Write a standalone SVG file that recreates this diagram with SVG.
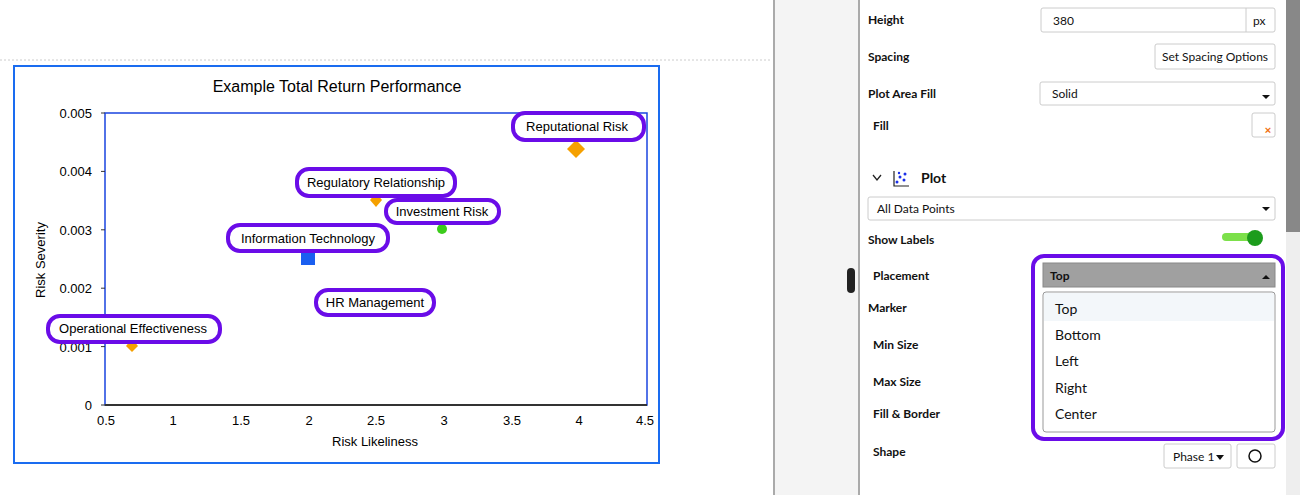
<svg xmlns="http://www.w3.org/2000/svg" width="1300" height="495" viewBox="0 0 1300 495">
<style>
.t{font-family:"Liberation Sans",Arial,sans-serif;fill:#000}
.ax{font-size:13px}
.lb{font-size:13px}
.hl{fill:#fff;stroke:#6a0ce8;stroke-width:4}
.p{font-family:Lato,"Open Sans",sans-serif;font-size:12px;font-weight:bold;fill:#111}
.v{font-family:Lato,"Open Sans",sans-serif;font-size:12px;fill:#111}
.o{font-family:Lato,"Open Sans",sans-serif;font-size:14px;fill:#111}
.box{fill:#fff;stroke:#ccc;stroke-width:1}
</style>
<rect width="1300" height="495" fill="#fff"/>
<line x1="0" y1="60" x2="770" y2="60" stroke="#ccc" stroke-dasharray="2,2"/>
<g id="chart">
<rect x="14" y="66" width="645" height="397" fill="#fff" stroke="#1a6cf0" stroke-width="2"/>
<text class="t" x="337" y="92" font-size="16" text-anchor="middle">Example Total Return Performance</text>
<rect x="105" y="113" width="542" height="292" fill="#fff" stroke="#1a44e0" stroke-width="1.5"/>
<line x1="105" y1="405" x2="647" y2="405" stroke="#333" stroke-width="2"/>
<g stroke="#333">
<line x1="101" y1="113" x2="105" y2="113"/><line x1="101" y1="171.4" x2="105" y2="171.4"/><line x1="101" y1="229.8" x2="105" y2="229.8"/><line x1="101" y1="288.2" x2="105" y2="288.2"/><line x1="101" y1="346.6" x2="105" y2="346.6"/><line x1="101" y1="405" x2="105" y2="405"/>
</g>
<g class="t ax" text-anchor="end">
<text x="92" y="118">0.005</text><text x="92" y="176">0.004</text><text x="92" y="235">0.003</text><text x="92" y="293">0.002</text><text x="92" y="352">0.001</text><text x="92" y="410">0</text>
</g>
<g class="t ax" text-anchor="middle">
<text x="106" y="425">0.5</text><text x="173" y="425">1</text><text x="241" y="425">1.5</text><text x="309" y="425">2</text><text x="376" y="425">2.5</text><text x="444" y="425">3</text><text x="512" y="425">3.5</text><text x="579" y="425">4</text><text x="645" y="425">4.5</text>
</g>
<text class="t" x="375" y="446" font-size="13" text-anchor="middle">Risk Likeliness</text>
<text class="t" x="45" y="260" font-size="13" text-anchor="middle" transform="rotate(-90 45 260)">Risk Severity</text>
</g>
<g id="points">
<path d="M132 339 L138 346 L132 352 L126 346Z" fill="#f5a000"/>
<rect x="301" y="251" width="14" height="14" fill="#1a5ff0"/>
<path d="M376 193 L382 200 L376 207 L370 200Z" fill="#f5a000"/>
<circle cx="442" cy="229" r="5" fill="#3ccc1c"/>
<path d="M576 140 L585 149 L576 158 L567 149Z" fill="#f5a000"/>
</g>
<g id="labels">
<rect class="hl" x="513" y="113" width="131" height="27" rx="12"/><text class="t lb" x="577" y="131" text-anchor="middle">Reputational Risk</text>
<rect class="hl" x="297" y="169" width="158" height="27" rx="12"/><text class="t lb" x="376" y="187" text-anchor="middle">Regulatory Relationship</text>
<rect class="hl" x="386" y="200" width="113" height="23" rx="11"/><text class="t lb" x="442" y="216" text-anchor="middle">Investment Risk</text>
<rect class="hl" x="228" y="225" width="160" height="26" rx="12"/><text class="t lb" x="308" y="243" text-anchor="middle">Information Technology</text>
<rect class="hl" x="316" y="290" width="118" height="25" rx="12"/><text class="t lb" x="375" y="307" text-anchor="middle">HR Management</text>
<rect class="hl" x="48" y="316" width="172" height="26" rx="12"/><text class="t lb" x="133" y="333" text-anchor="middle">Operational Effectiveness</text>
</g>
<g id="panel">
<rect x="774" y="0" width="85" height="495" fill="#f4f4f4"/>
<line x1="774" y1="0" x2="774" y2="495" stroke="#aaa" stroke-width="2"/>
<line x1="859" y1="0" x2="859" y2="495" stroke="#aaa" stroke-width="2"/>
<rect x="1286" y="0" width="14" height="232" fill="#888"/>
<rect x="1286" y="232" width="14" height="263" fill="#eee"/>
<rect x="847" y="268" width="8" height="25" rx="4" fill="#222"/>
<text class="p" x="868" y="24">Height</text>
<rect class="box" x="1041" y="8" width="234" height="24" rx="2"/><line x1="1246" y1="8" x2="1246" y2="32" stroke="#ccc"/>
<text class="v" x="1053" y="25">380</text><text class="v" x="1253" y="25">px</text>
<text class="p" x="868" y="61">Spacing</text>
<rect class="box" x="1155" y="44" width="120" height="25" rx="2"/><text class="v" x="1215" y="61" text-anchor="middle">Set Spacing Options</text>
<text class="p" x="868" y="98">Plot Area Fill</text>
<rect class="box" x="1040" y="82" width="235" height="23" rx="2"/><text class="v" x="1052" y="98">Solid</text>
<path d="M1262 95 L1270 95 L1266 99Z" fill="#111"/>
<text class="p" x="873" y="130">Fill</text>
<rect class="box" x="1252" y="113" width="23" height="24" rx="2"/>
<text x="1268" y="134" font-family="Liberation Sans,sans-serif" font-size="11" font-weight="bold" fill="#f07010" text-anchor="middle">×</text>
<path d="M873 175 L877 180 L881 175" fill="none" stroke="#222" stroke-width="1.3"/>
<path d="M894 171 L894 186 L909 186" fill="none" stroke="#222" stroke-width="1.2"/>
<g fill="#1a2fe8"><circle cx="897" cy="182" r="1.5"/><circle cx="900" cy="177" r="1.5"/><circle cx="904" cy="180" r="1.5"/><circle cx="905" cy="174" r="1.5"/><circle cx="899" cy="173" r="1.2"/></g>
<text x="921" y="183" font-family="Lato,sans-serif" font-size="14" font-weight="bold" fill="#111">Plot</text>
<rect class="box" x="868" y="197" width="407" height="23" rx="2"/><text class="v" x="877" y="213">All Data Points</text>
<path d="M1262 207 L1270 207 L1266 211Z" fill="#111"/>
<text class="p" x="868" y="244">Show Labels</text>
<rect x="1222" y="233" width="32" height="8" rx="4" fill="#7ce04a"/><circle cx="1255" cy="238" r="8" fill="#1c9c1c"/>
<text class="p" x="873" y="280">Placement</text>
<text class="p" x="868" y="312">Marker</text>
<text class="p" x="873" y="349">Min Size</text>
<text class="p" x="873" y="386">Max Size</text>
<text class="p" x="873" y="418">Fill &amp; Border</text>
<text class="p" x="873" y="456">Shape</text>
<rect class="box" x="1164" y="444" width="67" height="24" rx="2"/><text class="v" x="1173" y="461">Phase 1</text><path d="M1216 455 L1224 455 L1220 460Z" fill="#111"/>
<rect class="box" x="1237" y="444" width="38" height="24" rx="2"/><circle cx="1255" cy="456" r="6" fill="none" stroke="#111" stroke-width="1.5"/>
</g>
<g id="dropdown">
<rect x="1033" y="256" width="250" height="183" rx="11" fill="#fff" stroke="#6a0ce8" stroke-width="4"/>
<rect x="1043" y="263" width="232" height="24" fill="#a0a0a0" stroke="#888"/>
<text class="p" x="1050" y="280">Top</text><path d="M1262 279 L1270 279 L1266 275Z" fill="#111"/>
<rect x="1043" y="292" width="232" height="140" rx="3" fill="#fff" stroke="#999"/>
<rect x="1044" y="293" width="230" height="28" fill="#f3f7fa"/>
<text class="o" x="1055" y="314">Top</text>
<text class="o" x="1055" y="340">Bottom</text>
<text class="o" x="1055" y="366">Left</text>
<text class="o" x="1055" y="393">Right</text>
<text class="o" x="1055" y="419">Center</text>
</g>
</svg>
